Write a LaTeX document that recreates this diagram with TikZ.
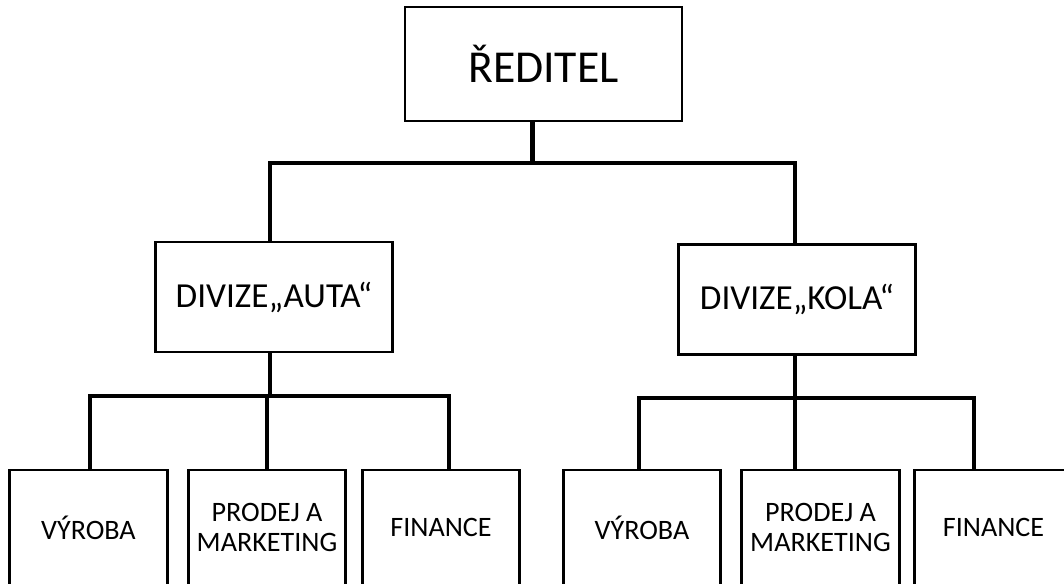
\documentclass[tikz,border=0pt]{standalone}
\usepackage{fontspec}
\setmainfont{Carlito}
\usetikzlibrary{positioning}

\tikzset{
  box/.style={draw, line width=1.6pt, align=center, inner sep=0pt},
  ceobox/.style={box, minimum width=5.54cm, minimum height=2.28cm, font=\fontsize{26}{26}\selectfont},
  divbox/.style={box, minimum width=4.74cm, minimum height=2.2cm, font=\fontsize{20}{20}\selectfont},
  unitbox/.style={box, minimum width=3.15cm, minimum height=2.3cm, font=\fontsize{16}{17.5}\selectfont},
  link/.style={line width=2.6pt, line cap=rect},
}

\begin{document}
\begin{tikzpicture}[x=0.02cm, y=-0.02cm]
        \useasboundingbox (0,0) rectangle (1064,583);
        \clip (0,0) rectangle (1064,583);
        \node[ceobox] (ceo) at (543.5,64) {ŘEDITEL};  %top
        \node[divbox] (divA) at (274,297) {DIVIZE„AUTA“};
        \node[divbox] (divK) at (797,299.5) {DIVIZE„KOLA“};
        %auta
        \node[unitbox] (a1) at (88.5,527.5) {VÝROBA};
        \node[unitbox] (a2) at (267,527.5) {PRODEJ A\\MARKETING};
        \node[unitbox] (a3) at (441,527.5) {FINANCE};
        %kola
        \node[unitbox] (k1) at (642,527.5) {VÝROBA};
        \node[unitbox] (k2) at (820.5,527.5) {PRODEJ A\\MARKETING};
        \node[unitbox] (k3) at (993.5,527.5) {FINANCE};
        \coordinate (top) at (532.5,163);
        \coordinate (topA) at (270,163);
        \coordinate (topK) at (795,163);
        \coordinate (busA1) at (90,396);
        \coordinate (busA3) at (449,396);
        \coordinate (busK1) at (639,398);
        \coordinate (busK3) at (974,398);
        \draw [link] (ceo.south -| top) -- (top);
        \draw [link] (divA.north -| topA) -- (topA) -- (topK) -- (divK.north -| topK);   %divize
        \draw [link] (divA.south -| topA) -- (busA1 -| topA);
        \draw [link] (a1.north -| busA1) -- (busA1) -- (busA3) -- (a3.north -| busA3);
        \draw [link] (busA1 -| a2.north) -- (a2.north);
        \draw [link] (divK.south -| topK) -- (busK1 -| topK);
        \draw [link] (k1.north -| busK1) -- (busK1) -- (busK3) -- (k3.north -| busK3);
        \draw [link] (busK1 -| topK) -- (k2.north -| topK);
    \end{tikzpicture}
\end{document}
